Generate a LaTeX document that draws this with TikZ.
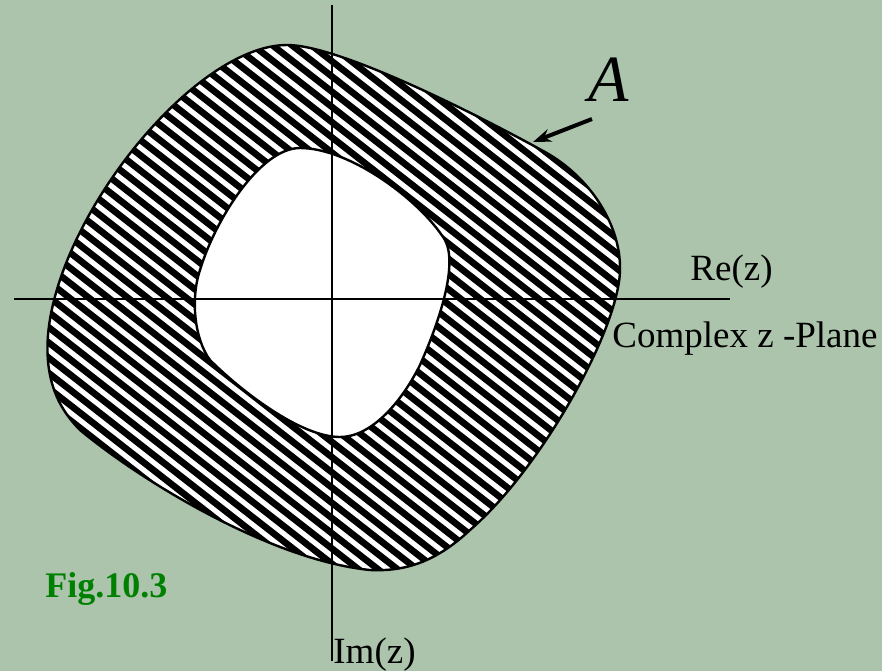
\documentclass[tikz,border=0pt]{standalone}
\usepackage{fontspec}
\setmainfont{Liberation Serif}
\usetikzlibrary{arrows.meta}

\definecolor{slide}{RGB}{171,196,171}
\definecolor{figgreen}{RGB}{0,128,0}

% boundaries of the region
\newcommand\outerrim{(287,45) .. controls (340,45) and (478,115) .. (545,152)
  .. controls (590,177) and (621,225) .. (620,270)
  .. controls (619,330) and (540,470) .. (470,530)
  .. controls (440,558) and (410,572) .. (370,570)
  .. controls (270,560) and (140,480) .. (80,430)
  .. controls (55,405) and (45,375) .. (48,335)
  .. controls (58,215) and (195,45) .. (287,45) -- cycle}
\newcommand\innerrim{(300,148) .. controls (350,148) and (420,200) .. (445,240)
  .. controls (458,265) and (440,320) .. (420,365)
  .. controls (400,405) and (370,437) .. (340,437)
  .. controls (300,437) and (240,390) .. (210,360)
  .. controls (195,340) and (190,300) .. (200,270)
  .. controls (215,220) and (260,148) .. (300,148) -- cycle}

\begin{document}
\begin{tikzpicture}[
  x=0.5pt, y=-0.5pt,
  >=Stealth,
  axis/.style={line width=1pt},
  rim/.style={line width=1.2pt},
  hatch/.style={line width=3.3pt},
  tag/.style={inner sep=0pt, anchor=base west, font=\fontsize{18.5}{22}\selectfont}
]
  \fill[slide] (0,0) rectangle (882,671);
  \useasboundingbox (0,0) rectangle (882,671);

  % striped region
  \fill[white] \outerrim;
  \begin{scope}
    \clip \outerrim;
    \foreach \i in {-37,...,30}
      \draw[hatch] (\i*19.5-100,-78.1) -- ++(1100,859);
  \end{scope}
  \fill[white] \innerrim;
  \draw[rim] \outerrim;
  \draw[rim] \innerrim;

  % axes
  \coordinate (west) at (14,299);
  \coordinate (east) at (730,299);
  \coordinate (north) at (332,5);
  \coordinate (south) at (332,661);
  \draw[axis] (west) -- (east);
  \draw[axis] (north) -- (south);

  \node[tag] (re) at (690,280) {Re(z)};
  \node[tag] (plane) at (612,347) {Complex z -Plane};
  \node[tag] (im) at (333,663) {Im(z)};
  \node[tag, font=\fontsize{18}{22}\selectfont\bfseries, text=figgreen] (fig) at (45,597) {Fig.10.3};

  % pointer to the region
  \node[tag, font=\fontsize{33}{40}\selectfont\itshape] (A) at (588,101) {A};
  \coordinate (tail) at (592,119);
  \coordinate (tip) at (533,142);
  \draw[->, line width=2pt, arrows={-Stealth[length=9pt, width=6.5pt]}] (tail) -- (tip);
\end{tikzpicture}
\end{document}
